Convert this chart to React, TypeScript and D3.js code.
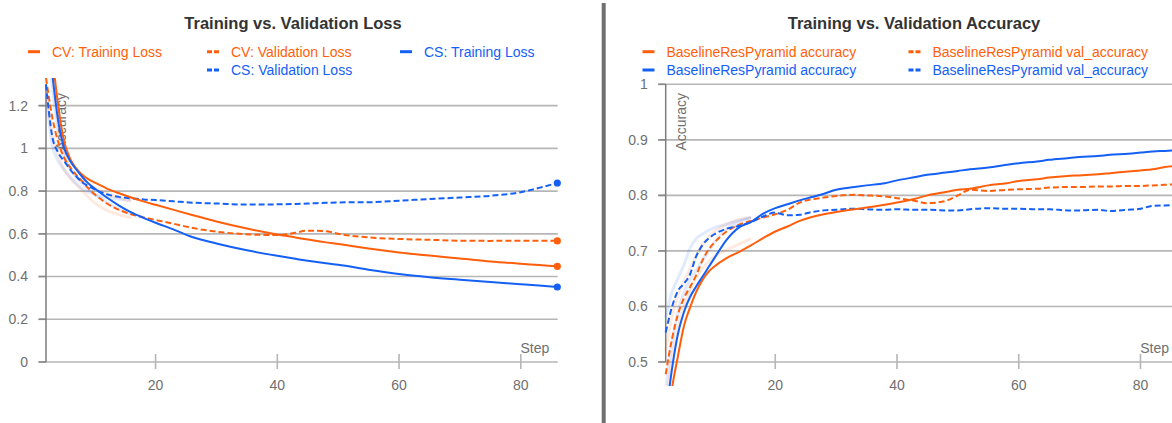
import React from 'react';
import * as d3 from 'd3';

const ORANGE = '#ff5f0a';
const BLUE = '#1460f5';
const FONT = "'Liberation Sans', Arial, sans-serif";

// ---------- Loss chart data ----------
const lossSteps = [2, 3, 4, 5, 6, 7, 8, 9, 10, 12, 14, 16, 18, 20, 23, 26, 30, 35, 40, 43, 45, 48, 50, 55, 60, 65, 70, 75, 80, 83, 86];
const cvTrainLoss = [1.75, 1.45, 1.2, 1.03, 0.95, 0.905, 0.875, 0.855, 0.84, 0.812, 0.79, 0.77, 0.752, 0.736, 0.712, 0.688, 0.658, 0.625, 0.597, 0.583, 0.573, 0.56, 0.552, 0.531, 0.513, 0.498, 0.485, 0.471, 0.46, 0.454, 0.448];
const cvValLoss = [1.33, 1.15, 1.03, 0.955, 0.91, 0.875, 0.845, 0.812, 0.785, 0.742, 0.712, 0.692, 0.677, 0.665, 0.647, 0.628, 0.61, 0.598, 0.594, 0.605, 0.615, 0.612, 0.6, 0.583, 0.576, 0.572, 0.568, 0.567, 0.568, 0.568, 0.567];
const csTrainLoss = [1.65, 1.36, 1.13, 1.0, 0.94, 0.9, 0.865, 0.835, 0.812, 0.77, 0.732, 0.7, 0.675, 0.652, 0.62, 0.585, 0.555, 0.523, 0.497, 0.483, 0.474, 0.462, 0.455, 0.432, 0.412, 0.397, 0.385, 0.374, 0.364, 0.358, 0.351];
const csValLoss = [1.3, 1.06, 0.98, 0.94, 0.9, 0.868, 0.84, 0.823, 0.808, 0.785, 0.773, 0.766, 0.761, 0.758, 0.752, 0.746, 0.742, 0.737, 0.738, 0.74, 0.742, 0.745, 0.747, 0.748, 0.755, 0.763, 0.77, 0.778, 0.795, 0.815, 0.838];
// faint raw (unsmoothed) traces visible at the start
const rawSteps = [2, 3, 4, 5, 6, 7, 8, 10, 12, 14, 16];
const rawCvVal = [1.28, 1.08, 0.97, 0.9, 0.86, 0.83, 0.8, 0.745, 0.71, 0.69, 0.675];
const rawCsVal = [1.25, 1.02, 0.94, 0.9, 0.865, 0.835, 0.81, 0.785, 0.77, 0.762, 0.758];
const rawCvTrain = [1.7, 1.38, 1.12, 0.98, 0.91, 0.87, 0.845, 0.815, 0.79, 0.77, 0.752];
const rawCsTrain = [1.6, 1.3, 1.08, 0.96, 0.9, 0.865, 0.835, 0.785, 0.748, 0.715, 0.69];
const lossTicks = [0, 0.2, 0.4, 0.6, 0.8, 1, 1.2];
const lossTickLabels = ['0', '0.2', '0.4', '0.6', '0.8', '1', '1.2'];

// ---------- Accuracy chart data ----------
const accSteps = [2, 3, 4, 5, 6, 7, 8, 9, 10, 12, 14, 16, 18, 20, 22, 24, 26, 28, 30, 33, 35, 38, 40, 43, 45, 48, 50, 52, 55, 58, 60, 63, 65, 68, 70, 73, 75, 78, 80, 82, 84, 86];
const orangeAcc = [0.36, 0.45, 0.51, 0.565, 0.598, 0.626, 0.647, 0.662, 0.672, 0.687, 0.698, 0.71, 0.723, 0.735, 0.744, 0.754, 0.761, 0.766, 0.77, 0.775, 0.778, 0.783, 0.787, 0.794, 0.8, 0.806, 0.81, 0.812, 0.818, 0.822, 0.826, 0.829, 0.832, 0.835, 0.836, 0.838, 0.84, 0.843, 0.845, 0.847, 0.851, 0.853];
const orangeValAcc = [0.478, 0.54, 0.585, 0.615, 0.635, 0.656, 0.682, 0.702, 0.715, 0.735, 0.747, 0.754, 0.76, 0.766, 0.774, 0.787, 0.793, 0.796, 0.799, 0.801, 0.8, 0.798, 0.795, 0.79, 0.786, 0.79, 0.8, 0.81, 0.808, 0.81, 0.811, 0.812, 0.814, 0.815, 0.815, 0.816, 0.816, 0.817, 0.817, 0.818, 0.819, 0.82];
const blueAcc = [0.4, 0.485, 0.55, 0.59, 0.617, 0.636, 0.653, 0.67, 0.687, 0.72, 0.742, 0.752, 0.767, 0.777, 0.784, 0.791, 0.797, 0.803, 0.81, 0.815, 0.818, 0.822, 0.827, 0.833, 0.837, 0.841, 0.844, 0.847, 0.85, 0.855, 0.858, 0.861, 0.864, 0.867, 0.869, 0.871, 0.873, 0.875, 0.877, 0.879, 0.88, 0.881];
const blueValAcc = [0.553, 0.598, 0.628, 0.641, 0.658, 0.69, 0.71, 0.722, 0.73, 0.74, 0.745, 0.752, 0.762, 0.769, 0.764, 0.765, 0.77, 0.773, 0.774, 0.776, 0.775, 0.774, 0.775, 0.774, 0.774, 0.773, 0.773, 0.775, 0.777, 0.776, 0.776, 0.775, 0.775, 0.773, 0.773, 0.774, 0.772, 0.774, 0.776, 0.781, 0.782, 0.783];
const rawOrangeVal = [0.52, 0.58, 0.62, 0.645, 0.668, 0.69, 0.71, 0.735, 0.748, 0.756, 0.76];
const rawBlueVal = [0.58, 0.625, 0.65, 0.675, 0.705, 0.722, 0.73, 0.742, 0.748, 0.755, 0.76];
const rawOrangeAcc = [0.42, 0.5, 0.56, 0.6, 0.63, 0.652, 0.668, 0.69, 0.702, 0.712, 0.722];
const rawBlueAcc = [0.45, 0.53, 0.59, 0.625, 0.648, 0.665, 0.682, 0.715, 0.74, 0.752, 0.76];
const accTicks = [0.5, 0.6, 0.7, 0.8, 0.9, 1];
const accTickLabels = ['0.5', '0.6', '0.7', '0.8', '0.9', '1'];

const stepTicks = [20, 40, 60, 80];
const stepTickLabels = ['20', '40', '60', '80'];
const stepDomain = [2, 86];

type Series = { steps: number[]; values: number[]; color: string; dashed: boolean; dot: boolean; faint?: boolean };
type LegendItem = { label: string; color: string; dashed: boolean; x: number; row: number };

type PanelProps = {
  id: string;
  title: string;
  titleX: number;
  x0: number;
  x1: number;
  gridRight: number;
  yDomain: [number, number];
  yTicks: number[];
  yTickLabels: string[];
  series: Series[];
  legend: LegendItem[];
  clip: { x: number; y: number; w: number; h: number };
};

function Panel(p: PanelProps) {
  const top = 84.3;
  const bottom = 362;
  const xs = d3.scaleLinear().domain(stepDomain).range([p.x0, p.x1]);
  const ys = d3.scaleLinear().domain(p.yDomain).range([bottom, top]);
  const line = d3
    .line<[number, number]>()
    .x((d) => xs(d[0]))
    .y((d) => ys(d[1]))
    .curve(d3.curveMonotoneX);
  const gridColor = '#b6b6b6';
  const labelColor = '#6f6f6f';
  const rowY = [51.7, 70];
  const rowBase = [56.5, 74.8];
  const faint = p.series.filter((s) => s.faint);
  const main = p.series.filter((s) => !s.faint);
  return (
    <g>
      <text x={p.titleX} y={28.5} textAnchor="middle" fontFamily={FONT} fontWeight="bold" fontSize={16.5} fill="#333">
        {p.title}
      </text>
      {p.legend.map((l, i) => (
        <g key={i}>
          <line
            x1={l.x - 24}
            x2={l.x - 12}
            y1={rowY[l.row]}
            y2={rowY[l.row]}
            stroke={l.color}
            strokeWidth={3}
            strokeDasharray={l.dashed ? '5,2' : undefined}
          />
          <text x={l.x} y={rowBase[l.row]} fontFamily={FONT} fontSize={14} fill={l.color}>
            {l.label}
          </text>
        </g>
      ))}
      {p.yTicks.map((t, i) => (
        <g key={'gy' + i}>
          <line x1={p.x0 - 7.5} x2={p.gridRight} y1={ys(t)} y2={ys(t)} stroke={gridColor} strokeWidth={1.6} />
          <line x1={p.x0 - 7.5} x2={p.x0} y1={ys(t)} y2={ys(t)} stroke="#8a8a8a" strokeWidth={1.6} />
          <text x={p.x0 - 18} y={ys(t)} dy="0.35em" textAnchor="end" fontFamily={FONT} fontSize={14} fill={labelColor}>
            {p.yTickLabels[i]}
          </text>
        </g>
      ))}
      <line x1={p.x0} x2={p.x0} y1={top} y2={bottom} stroke="#7d7d7d" strokeWidth={1.5} />
      {stepTicks.map((t, i) => (
        <g key={'gx' + i}>
          <line x1={xs(t)} x2={xs(t)} y1={354} y2={369} stroke={gridColor} strokeWidth={1.6} />
          <text x={xs(t)} y={390} textAnchor="middle" fontFamily={FONT} fontSize={14} fill={labelColor}>
            {stepTickLabels[i]}
          </text>
        </g>
      ))}
      <text x={p.x1 - 8} y={353} textAnchor="end" fontFamily={FONT} fontSize={14} fill={labelColor}>
        Step
      </text>
      <text
        transform={`translate(${p.x0 + 20},150.5) rotate(-90)`}
        fontFamily={FONT}
        fontSize={14}
        fill={labelColor}
      >
        Accuracy
      </text>
      <defs>
        <clipPath id={p.id}>
          <rect x={p.clip.x} y={p.clip.y} width={p.clip.w} height={p.clip.h} />
        </clipPath>
      </defs>
      <g clipPath={`url(#${p.id})`}>
        {faint.map((s, i) => (
          <path
            key={'f' + i}
            d={line(s.steps.map((st, j) => [st, s.values[j]] as [number, number])) || ''}
            fill="none"
            stroke={s.color}
            strokeOpacity={0.13}
            strokeWidth={3}
          />
        ))}
        {main.map((s, i) => (
          <path
            key={'s' + i}
            d={line(s.steps.map((st, j) => [st, s.values[j]] as [number, number])) || ''}
            fill="none"
            stroke={s.color}
            strokeWidth={2}
            strokeDasharray={s.dashed ? '6,3' : undefined}
          />
        ))}
        {main
          .filter((s) => s.dot)
          .map((s, i) => (
            <circle
              key={'d' + i}
              cx={xs(s.steps[s.steps.length - 1])}
              cy={ys(s.values[s.values.length - 1])}
              r={3.6}
              fill={s.color}
            />
          ))}
      </g>
    </g>
  );
}

export default function App() {
  const lossSeries: Series[] = [
    { steps: rawSteps, values: rawCvVal, color: ORANGE, dashed: false, dot: false, faint: true },
    { steps: rawSteps, values: rawCsVal, color: BLUE, dashed: false, dot: false, faint: true },
    { steps: rawSteps, values: rawCvTrain, color: ORANGE, dashed: false, dot: false, faint: true },
    { steps: rawSteps, values: rawCsTrain, color: BLUE, dashed: false, dot: false, faint: true },
    { steps: lossSteps, values: cvValLoss, color: ORANGE, dashed: true, dot: true },
    { steps: lossSteps, values: csValLoss, color: BLUE, dashed: true, dot: true },
    { steps: lossSteps, values: cvTrainLoss, color: ORANGE, dashed: false, dot: true },
    { steps: lossSteps, values: csTrainLoss, color: BLUE, dashed: false, dot: true },
  ];
  const accSeries: Series[] = [
    { steps: rawSteps, values: rawOrangeVal, color: ORANGE, dashed: false, dot: false, faint: true },
    { steps: rawSteps, values: rawBlueVal, color: BLUE, dashed: false, dot: false, faint: true },
    { steps: rawSteps, values: rawOrangeAcc, color: ORANGE, dashed: false, dot: false, faint: true },
    { steps: rawSteps, values: rawBlueAcc, color: BLUE, dashed: false, dot: false, faint: true },
    { steps: accSteps, values: orangeValAcc, color: ORANGE, dashed: true, dot: true },
    { steps: accSteps, values: blueValAcc, color: BLUE, dashed: true, dot: true },
    { steps: accSteps, values: orangeAcc, color: ORANGE, dashed: false, dot: true },
    { steps: accSteps, values: blueAcc, color: BLUE, dashed: false, dot: true },
  ];
  const lossLegend: LegendItem[] = [
    { label: 'CV: Training Loss', color: ORANGE, dashed: false, x: 52, row: 0 },
    { label: 'CV: Validation Loss', color: ORANGE, dashed: true, x: 231, row: 0 },
    { label: 'CS: Training Loss', color: BLUE, dashed: false, x: 424, row: 0 },
    { label: 'CS: Validation Loss', color: BLUE, dashed: true, x: 231, row: 1 },
  ];
  const accLegend: LegendItem[] = [
    { label: 'BaselineResPyramid accuracy', color: ORANGE, dashed: false, x: 666.5, row: 0 },
    { label: 'BaselineResPyramid val_accuracy', color: ORANGE, dashed: true, x: 932.5, row: 0 },
    { label: 'BaselineResPyramid accuracy', color: BLUE, dashed: false, x: 666.5, row: 1 },
    { label: 'BaselineResPyramid val_accuracy', color: BLUE, dashed: true, x: 932.5, row: 1 },
  ];
  return (
    <svg
      width={1172}
      height={423}
      style={{ position: 'absolute', left: 0, top: 0, background: '#fff' }}
    >
      <rect x={0} y={0} width={1172} height={423} fill="#fff" />
      <Panel
        id="clipLoss"
        title="Training vs. Validation Loss"
        titleX={293}
        x0={46}
        x1={557.3}
        gridRight={557.7}
        yDomain={[0, 1.3]}
        yTicks={lossTicks}
        yTickLabels={lossTickLabels}
        series={lossSeries}
        legend={lossLegend}
        clip={{ x: 40, y: 78, w: 530, h: 340 }}
      />
      <rect x={601.7} y={3} width={4} height={420} fill="#707070" />
      <Panel
        id="clipAcc"
        title="Training vs. Validation Accuracy"
        titleX={914}
        x0={665.7}
        x1={1177}
        gridRight={1180}
        yDomain={[0.5, 1]}
        yTicks={accTicks}
        yTickLabels={accTickLabels}
        series={accSeries}
        legend={accLegend}
        clip={{ x: 660, y: 80, w: 520, h: 306 }}
      />
    </svg>
  );
}
